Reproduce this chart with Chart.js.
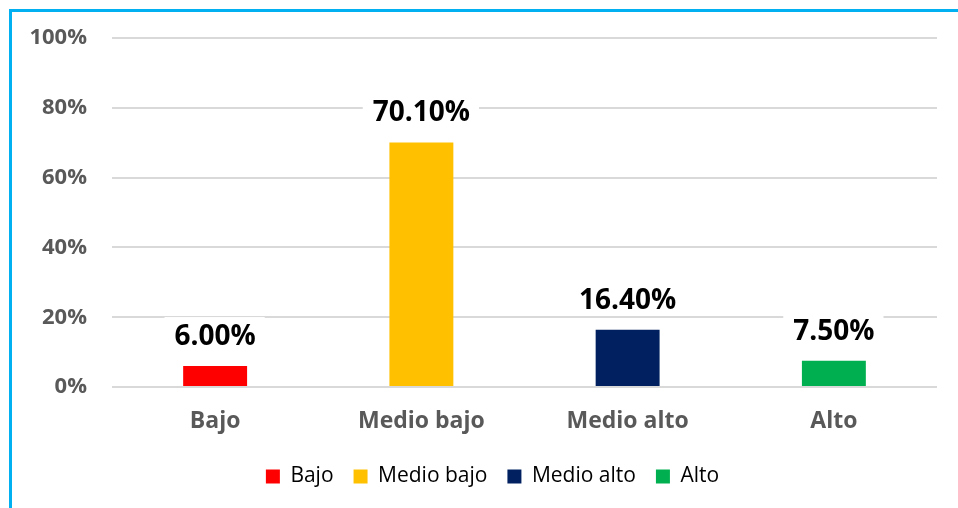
<!DOCTYPE html>
<html>
<head>
<meta charset="utf-8">
<script src="https://cdn.jsdelivr.net/npm/chart.js@4.4.1/dist/chart.umd.min.js"></script>
<style>
  html, body { margin: 0; padding: 0; background: #fff; }
  #wrap { position: relative; width: 958px; height: 508px; }
  #frame {
    position: absolute; left: 9px; top: 9px; right: 0; bottom: 0;
    border-left: 3px solid #00b0f0; border-top: 3px solid #00b0f0;
    pointer-events: none;
  }
</style>
</head>
<body>
<div id="wrap">
  <canvas id="chart" width="958" height="508"></canvas>
  <div id="frame"></div>
</div>
<script>
let categories = ["Bajo", "Medio bajo", "Medio alto", "Alto"];
let values = [6.0, 70.1, 16.4, 7.5];
let colors = ["#ff0000", "#ffc000", "#002060", "#00b050"];
let yTicks = [0, 20, 40, 60, 80, 100];

const fontFamily = "'Open Sans', 'DejaVu Sans', sans-serif";

// labels over the bars, on a white box so the grid line is hidden
const barLabels = {
  id: "barLabels",
  afterDatasetsDraw(chart) {
    const ctx = chart.ctx;
    const meta = chart.getDatasetMeta(0);
    ctx.save();
    ctx.font = "bold 28px " + fontFamily;
    ctx.textAlign = "center";
    ctx.textBaseline = "alphabetic";
    meta.data.forEach((bar, i) => {
      let text = values[i].toFixed(2) + "%";
      let w = ctx.measureText(text).width;
      let base = bar.y - 21;
      ctx.fillStyle = "#ffffff";
      ctx.fillRect(bar.x - w / 2 - 10, base - 28, w + 19, 34);
      ctx.fillStyle = "#000000";
      ctx.fillText(text, bar.x, base);
    });
    ctx.restore();
  },
};

// the legend sits a bit right of the canvas centre
const legendShift = {
  id: "legendShift",
  afterLayout(chart) {
    chart.legend.left += 10;
    chart.legend.right += 10;
  },
};

let config = {
  type: "bar",
  data: {
    labels: categories,
    datasets: [
      {
        data: values,
        backgroundColor: colors,
        borderWidth: 0,
        barPercentage: 0.31,
        categoryPercentage: 1,
      },
    ],
  },
  options: {
    responsive: false,
    animation: false,
    layout: {
      padding: { left: 28, right: 21, top: 33.8, bottom: 11 },
    },
    scales: {
      y: {
        min: 0,
        max: 100,
        afterBuildTicks: (scale) => {
          scale.ticks = yTicks.map((v) => ({ value: v }));
        },
        afterFit: (scale) => {
          scale.width = 84;
        },
        border: { display: false },
        grid: { color: "#d9d9d9", lineWidth: 2, drawTicks: false },
        ticks: {
          padding: 25,
          color: "#595959",
          font: { family: fontFamily, size: 22, weight: "bold" },
          callback: (v) => v + "%",
        },
      },
      x: {
        afterFit: (scale) => {
          scale.height = 59;
        },
        border: { display: false },
        grid: { display: false, drawTicks: false },
        ticks: {
          padding: 21,
          color: "#595959",
          font: { family: fontFamily, size: 23, weight: "bold" },
        },
      },
    },
    plugins: {
      tooltip: { enabled: false },
      legend: {
        position: "bottom",
        labels: {
          boxWidth: 14,
          boxHeight: 14,
          padding: 20,
          color: "#595959",
          font: { family: fontFamily, size: 21 },
          generateLabels: () =>
            categories.map((c, i) => ({
              text: c,
              fillStyle: colors[i],
              strokeStyle: colors[i],
              lineWidth: 0,
              hidden: false,
              index: i,
            })),
        },
      },
    },
  },
  plugins: [barLabels, legendShift],
};

new Chart(document.querySelector("#chart"), config);
</script>
</body>
</html>
